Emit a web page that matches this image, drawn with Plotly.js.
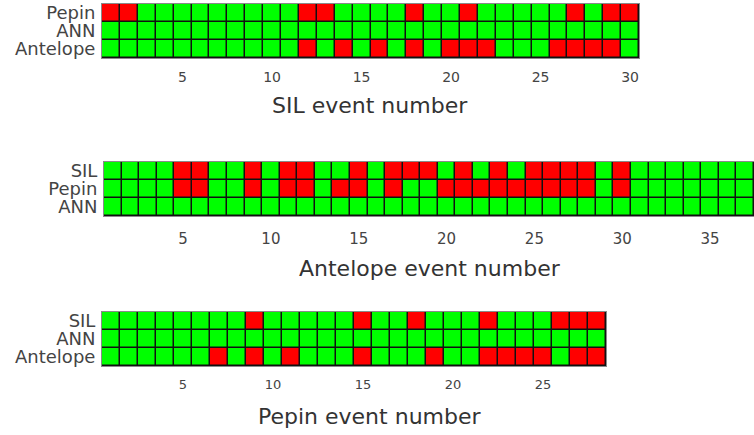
<!DOCTYPE html>
<html>
<head>
<meta charset="utf-8">
<script src="https://cdn.plot.ly/plotly-3.0.1.min.js"></script>
<style>html,body{margin:0;padding:0;background:#fff;}#chart{width:754px;height:435px;}</style>
</head>
<body>
<div id="chart"></div>
<script>
// 1 = agreement (green), 0 = disagreement (red)
// Panel 1: SIL events
const silRows = ['Pepin', 'ANN', 'Antelope'];
const silPepin    = [0,0,1,1,1,1,1,1,1,1, 1,0,0,1,1,1,1,0,1,1, 0,1,1,1,1,1,0,1,0,0];
const silANN      = [1,1,1,1,1,1,1,1,1,1, 1,1,1,1,1,1,1,1,1,1, 1,1,1,1,1,1,1,1,1,1];
const silAntelope = [1,1,1,1,1,1,1,1,1,1, 1,0,1,0,1,0,1,0,1,0, 0,0,1,1,1,0,0,0,0,1];

// Panel 2: Antelope events
const antRows = ['SIL', 'Pepin', 'ANN'];
const antSIL   = [1,1,1,1,0,0,1,1,0,1, 0,0,1,1,0,1,0,0,0,1, 0,1,0,1,0,0,0,0,1,0, 1,1,1,1,1,1,1];
const antPepin = [1,1,1,1,0,0,1,1,0,1, 0,0,1,0,0,1,0,1,1,0, 0,0,0,0,0,0,0,0,1,0, 1,1,1,1,1,1,1];
const antANN   = [1,1,1,1,1,1,1,1,1,1, 1,1,1,1,1,1,1,1,1,1, 1,1,1,1,1,1,1,1,1,1, 1,1,1,1,1,1,1];

// Panel 3: Pepin events
const pepRows = ['SIL', 'ANN', 'Antelope'];
const pepSIL      = [1,1,1,1,1,1,1,1,0,1, 1,1,1,1,0,1,1,0,1,1, 1,0,1,1,1,0,0,0];
const pepANN      = [1,1,1,1,1,1,1,1,1,1, 1,1,1,1,1,1,1,1,1,1, 1,1,1,1,1,1,1,1];
const pepAntelope = [1,1,1,1,1,1,0,1,0,1, 0,1,1,1,0,1,1,1,0,1, 1,0,0,0,0,1,0,0];

const titles = ['SIL event number', 'Antelope event number', 'Pepin event number'];

const cs = [[0,'#ff0000'],[0.5,'#ff0000'],[0.5,'#00ff00'],[1,'#00ff00']];
function hm(z, rows, xa, ya) {
  return {type:'heatmap', z:z, y:rows, x0:1, dx:1, xaxis:xa, yaxis:ya,
    colorscale:cs, zmin:0, zmax:1, showscale:false, xgap:1.5, ygap:1.5, hoverinfo:'skip'};
}
const data = [
  hm([silPepin, silANN, silAntelope], silRows, 'x', 'y'),
  hm([antSIL, antPepin, antANN], antRows, 'x2', 'y2'),
  hm([pepSIL, pepANN, pepAntelope], pepRows, 'x3', 'y3')
];

const W = 754, H = 435;
function xd(a, b) { return [a / W, Math.min(1, b / W)]; }
function yd(top, bot) { return [(H - bot) / H, (H - top) / H]; }
function xax(dom, n, anchor, fs, so) {
  return {domain:dom, range:[0.5, n + 0.5], anchor:anchor, tick0:0, dtick:5, ticks:'',
    ticklabelstandoff:so,
    showgrid:false, zeroline:false, showline:true, mirror:true, linecolor:'#8a8a8a', linewidth:1,
    tickfont:{family:'DejaVu Sans', size:fs, color:'#444'}, fixedrange:true};
}
function yax(dom, anchor, rows) {
  return {domain:dom, anchor:anchor, type:'category', autorange:'reversed', ticks:'',
    tickmode:'array', tickvals:rows, ticktext:rows, ticklabelstandoff:2,
    showgrid:false, zeroline:false, showline:true, mirror:true, linecolor:'#8a8a8a', linewidth:1,
    tickfont:{family:'DejaVu Sans', size:18, color:'#444'}, fixedrange:true};
}
function ann(text, xc, yc) {
  return {text:text, x:xc / W, y:(H - yc) / H, xref:'paper', yref:'paper', xanchor:'center', yanchor:'middle',
    showarrow:false, font:{family:'DejaVu Sans', size:22, color:'#333'}};
}
const layout = {
  width:W, height:H, margin:{l:0, r:0, t:0, b:0}, paper_bgcolor:'#fff', plot_bgcolor:'#111',
  showlegend:false,
  xaxis: xax(xd(102, 639), silPepin.length, 'y', 14, 6),
  yaxis: yax(yd(4, 58), 'x', silRows),
  xaxis2: xax(xd(104, 754), antSIL.length, 'y2', 15, 9),
  yaxis2: yax(yd(162, 216), 'x2', antRows),
  xaxis3: xax(xd(102, 606), pepSIL.length, 'y3', 13, 6),
  yaxis3: yax(yd(312, 366), 'x3', pepRows),
  annotations: [ann(titles[0], 370, 105), ann(titles[1], 430, 268), ann(titles[2], 370, 416)]
};
Plotly.newPlot('chart', data, layout, {staticPlot:true, displayModeBar:false});
</script>
</body>
</html>
